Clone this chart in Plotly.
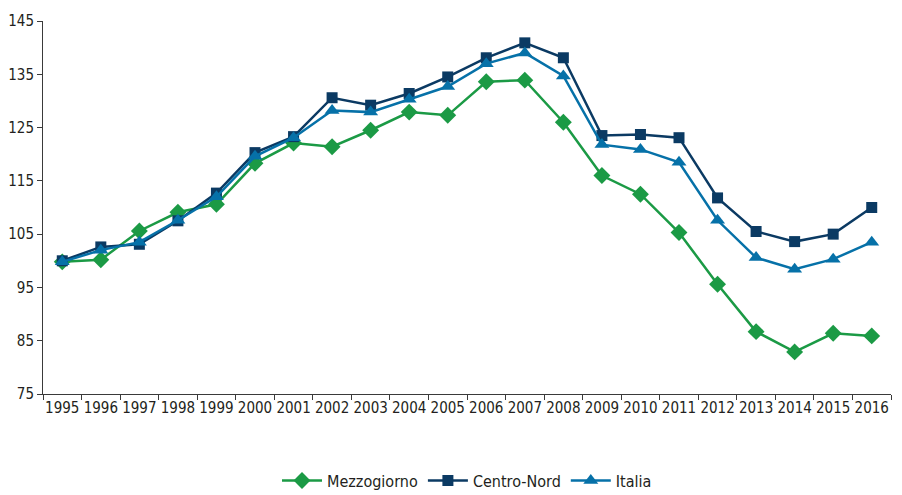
import plotly.graph_objects as go

years = [str(y) for y in range(1995, 2017)]
mezzogiorno = [99.8, 100.2, 105.6, 109.1, 110.6, 118.3, 122.1, 121.4, 124.5, 127.9, 127.3,
               133.6, 133.9, 126.0, 116.0, 112.5, 105.3, 95.6, 86.7, 82.9, 86.4, 85.9]
centro_nord = [100.0, 102.6, 103.1, 107.5, 112.7, 120.3, 123.3, 130.6, 129.2, 131.4, 134.5,
               138.1, 140.9, 138.1, 123.5, 123.7, 123.1, 111.8, 105.5, 103.6, 105.0, 110.0]
italia = [99.8, 102.0, 103.5, 107.6, 112.0, 119.6, 123.1, 128.2, 127.9, 130.3, 132.7,
          137.0, 139.0, 134.7, 121.8, 120.9, 118.5, 107.6, 100.6, 98.4, 100.3, 103.5]
y_ticks = [75, 85, 95, 105, 115, 125, 135, 145]

FONT = "DejaVu Sans Condensed, Liberation Sans Narrow, sans-serif"

fig = go.Figure()
fig.add_trace(go.Scatter(x=years, y=mezzogiorno, name="Mezzogiorno", mode="lines+markers",
                         line=dict(color="#1b9a45", width=2.5),
                         marker=dict(symbol="diamond", size=13, color="#1b9a45")))
fig.add_trace(go.Scatter(x=years, y=centro_nord, name="Centro-Nord", mode="lines+markers",
                         line=dict(color="#0b3a63", width=2.5),
                         marker=dict(symbol="square", size=11, color="#0b3a63")))
fig.add_trace(go.Scatter(x=years, y=italia, name="Italia", mode="lines+markers",
                         line=dict(color="#0671a8", width=2.5),
                         marker=dict(symbol="triangle-up", size=13, color="#0671a8")))

# page body has an 8px default margin; size the figure to fill the rest of the window
fig.update_layout(
    width=894, height=487,
    margin=dict(l=35, r=11, t=13, b=101, autoexpand=False),
    paper_bgcolor="white", plot_bgcolor="white",
    font=dict(family=FONT, size=15, color="#231f20"),
    showlegend=True,
    legend=dict(orientation="h", x=0.5, xanchor="center", y=-0.232, yanchor="middle",
                font=dict(family=FONT, size=16, color="#231f20"), itemwidth=40,
                tracegroupgap=0),
    xaxis=dict(type="category", range=[-0.5, 21.5], showgrid=False, showline=True,
               linecolor="#3a3a3a", linewidth=1, ticks="outside", ticklen=5,
               tickcolor="#3a3a3a", tickson="boundaries", zeroline=False,
               tickangle=0, automargin=False,
               tickfont=dict(family=FONT, size=15, color="#231f20")),
    yaxis=dict(range=[75, 145], tickvals=y_ticks, showgrid=False, showline=True,
               linecolor="#3a3a3a", linewidth=1, ticks="outside", ticklen=5,
               tickcolor="#3a3a3a", zeroline=False, automargin=False,
               tickfont=dict(family=FONT, size=15, color="#231f20")),
)

fig.write_html("out.html")
